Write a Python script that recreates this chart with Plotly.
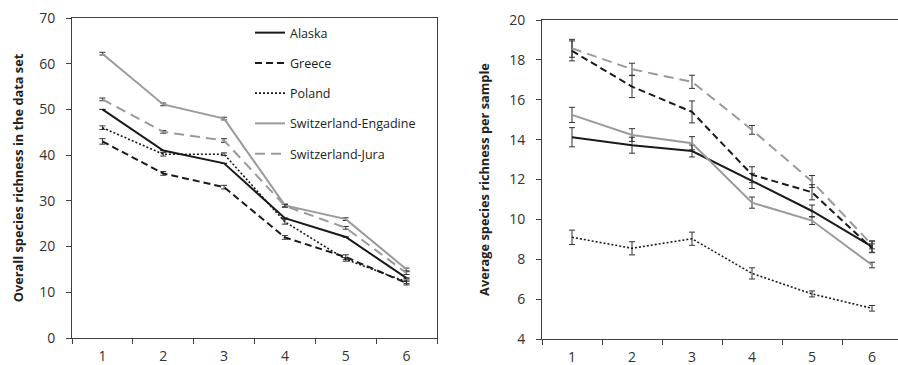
import plotly.graph_objects as go

categories = ["1", "2", "3", "4", "5", "6"]
series_names = ["Alaska", "Greece", "Poland", "Switzerland-Engadine", "Switzerland-Jura"]

# Left panel: overall species richness in the data set
overall_alaska = [50, 41, 38.2, 26.2, 22.1, 13.1]
overall_greece = [43, 36, 33, 22, 17.7, 12]
overall_poland = [46, 40.2, 40.2, 25.4, 17.2, 12.3]
overall_engadine = [62.2, 51.1, 48, 29, 26, 15]
overall_jura = [52.2, 45.1, 43.2, 28.9, 24.1, 14.2]

overall_err_alaska = [0, 0, 0, 0, 0, 0]
overall_err_greece = [0.6, 0.4, 0.4, 0.4, 0.5, 0.4]
overall_err_poland = [0.4, 0.4, 0.3, 0.5, 0.4, 0.4]
overall_err_engadine = [0.3, 0.3, 0.3, 0.3, 0.3, 0.3]
overall_err_jura = [0.3, 0.3, 0.4, 0.3, 0.3, 0.3]

# Right panel: average species richness per sample
avg_alaska = [14.12, 13.72, 13.43, 11.93, 10.42, 8.63]
avg_greece = [18.45, 16.66, 15.39, 12.24, 11.36, 8.55]
avg_poland = [9.1, 8.55, 9.03, 7.29, 6.26, 5.54]
avg_engadine = [15.24, 14.23, 13.82, 10.84, 9.94, 7.71]
avg_jura = [18.58, 17.53, 16.9, 14.49, 11.9, 8.72]

avg_err_alaska = [0.48, 0.4, 0.3, 0.38, 0.3, 0.28]
avg_err_greece = [0.5, 0.55, 0.55, 0.4, 0.38, 0.22]
avg_err_poland = [0.36, 0.33, 0.33, 0.28, 0.15, 0.14]
avg_err_engadine = [0.38, 0.32, 0.33, 0.28, 0.2, 0.14]
avg_err_jura = [0.45, 0.3, 0.33, 0.22, 0.3, 0.2]

BLACK = "#1a1a1a"
GREY = "#9a9a9a"
styles = [
    dict(color=BLACK, width=2, dash="solid"),
    dict(color=BLACK, width=2, dash="7px,4px"),
    dict(color=BLACK, width=1.6, dash="2px,2px"),
    dict(color=GREY, width=2, dash="solid"),
    dict(color=GREY, width=2, dash="10px,6px"),
]

left_vals = [overall_alaska, overall_greece, overall_poland, overall_engadine, overall_jura]
left_errs = [overall_err_alaska, overall_err_greece, overall_err_poland, overall_err_engadine, overall_err_jura]
right_vals = [avg_alaska, avg_greece, avg_poland, avg_engadine, avg_jura]
right_errs = [avg_err_alaska, avg_err_greece, avg_err_poland, avg_err_engadine, avg_err_jura]

fig = go.Figure()
for i, name in enumerate(series_names):
    fig.add_trace(go.Scatter(
        x=categories, y=left_vals[i], mode="lines", name=name, line=styles[i],
        error_y=dict(type="data", array=left_errs[i], visible=True, color="#333333", thickness=1, width=3),
        xaxis="x", yaxis="y", legendgroup=name, showlegend=True,
    ))
for i, name in enumerate(series_names):
    fig.add_trace(go.Scatter(
        x=categories, y=right_vals[i], mode="lines", name=name, line=styles[i],
        error_y=dict(type="data", array=right_errs[i], visible=True, color="#333333", thickness=1, width=3),
        xaxis="x2", yaxis="y2", legendgroup=name, showlegend=False,
    ))

W, H = 898, 365
font_family = "Open Sans, Noto Sans, sans-serif"
axcol = "#404040"
tickfont = dict(family=font_family, size=14, color="#333333")
titlefont = dict(family=font_family, size=12.8, color="#222222", weight="bold")

common_x = dict(type="category", tickson="boundaries", ticks="outside", ticklen=5, tickcolor=axcol,
                showline=True, linecolor=axcol, linewidth=1, mirror=True, showgrid=False,
                zeroline=False, tickfont=tickfont, automargin=False, ticklabelstandoff=5)
common_y = dict(ticks="outside", ticklen=5, tickcolor=axcol, showline=True, linecolor=axcol,
                linewidth=1, showgrid=False, zeroline=False, tickfont=tickfont,
                automargin=False, ticklabelstandoff=8)

fig.update_layout(
    width=W, height=H,
    margin=dict(l=0, r=0, t=0, b=0, autoexpand=False),
    paper_bgcolor="white", plot_bgcolor="white",
    showlegend=True,
    legend=dict(x=250 / W, y=1 - 18 / H, xanchor="left", yanchor="top",
                bgcolor="rgba(0,0,0,0)", font=dict(family=font_family, size=12.5, color="#222222"),
                tracegroupgap=11, itemwidth=30),
    xaxis=dict(domain=[72 / W, 437 / W], range=[-0.5, 5.5], anchor="y", **common_x),
    yaxis=dict(domain=[1 - 338 / H, 1 - 18 / H], range=[0, 70], dtick=10, anchor="x", mirror=True,
               title=dict(text="Overall species richness in the data set", font=titlefont, standoff=12),
               **common_y),
    xaxis2=dict(domain=[542 / W, 1], range=[-0.5, 5.5 - 0.067], anchor="y2", **common_x),
    yaxis2=dict(domain=[1 - 339 / H, 1 - 20 / H], range=[4, 20], dtick=2, anchor="x2", mirror=False,
                title=dict(text="Average species richness per sample", font=titlefont, standoff=16),
                **common_y),
)

fig.write_html("out.html", config={"displayModeBar": False},
               post_script="document.body.style.margin='0';")
